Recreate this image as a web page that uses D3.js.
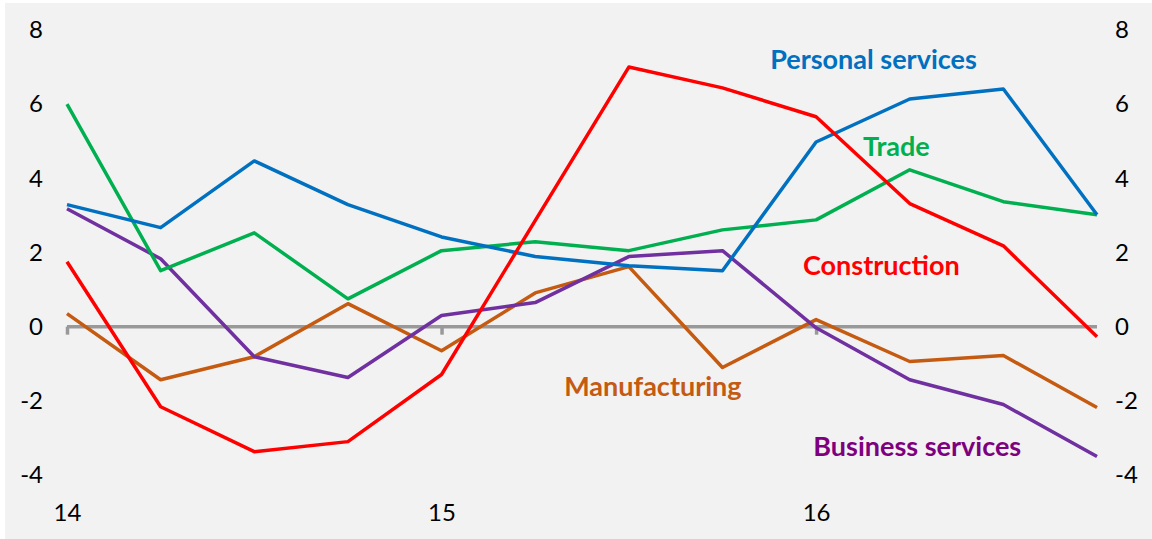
<!DOCTYPE html>
<html>
<head>
<meta charset="utf-8">
<script src="https://cdn.jsdelivr.net/npm/d3@7"></script>
<style>
  html, body { margin: 0; padding: 0; background: #ffffff; }
  svg { display: block; }
</style>
</head>
<body>
<svg id="chart" width="1152" height="539"></svg>
<script>
// ---- data ----
const quarters = ["14Q1","14Q2","14Q3","14Q4","15Q1","15Q2","15Q3","15Q4","16Q1","16Q2","16Q3","16Q4"];
const yearTicks = ["14Q1","15Q1","16Q1"];
const yearLabels = ["14","15","16"];
const yTicks = [-4,-2,0,2,4,6,8];

const personalServices = [3.29, 2.67, 4.47, 3.29, 2.42, 1.89, 1.64, 1.51, 4.98, 6.14, 6.41, 3.02];
const trade            = [6.00, 1.51, 2.53, 0.75, 2.05, 2.29, 2.05, 2.61, 2.88, 4.23, 3.37, 3.02];
const construction     = [1.75, -2.16, -3.37, -3.10, -1.29, 2.86, 7.00, 6.44, 5.66, 3.32, 2.18, -0.27];
const manufacturing    = [0.35, -1.43, -0.81, 0.62, -0.65, 0.91, 1.62, -1.10, 0.19, -0.94, -0.78, -2.18];
const businessServices = [3.18, 1.83, -0.81, -1.37, 0.30, 0.65, 1.89, 2.05, -0.03, -1.43, -2.10, -3.50];

const seriesNames  = ["Manufacturing","Business services","Trade","Personal services","Construction"];
const seriesValues = [manufacturing, businessServices, trade, personalServices, construction];
const lineColors   = ["#C55A11","#7030A0","#00B050","#0070C0","#FF0000"];
const labelColors  = ["#C55A11","#7F007F","#00B050","#0070C0","#FF0000"];
// label anchors (category plus fractional step offset, value at baseline)
const labelAt = [
  {q:"15Q3", dq:-0.69, v:-1.86},  // Manufacturing
  {q:"16Q1", dq:-0.03, v:-3.48},  // Business services
  {q:"16Q1", dq:0.5,   v:4.61},   // Trade
  {q:"15Q4", dq:0.51,  v:6.96},   // Personal services
  {q:"16Q1", dq:-0.14, v:1.40}    // Construction
];

// ---- chart ----
const svg = d3.select("#chart");
const W = 1152, H = 539;

svg.append("text")
  .attr("x", 8).attr("y", -3)
  .attr("font-family", "Lato, 'Open Sans', sans-serif")
  .attr("font-size", 20)
  .attr("fill", "#000")
  .text("(annual rate of change, per cent)");

svg.append("rect")
  .attr("x", 5).attr("y", 3)
  .attr("width", W - 5).attr("height", H - 3)
  .attr("fill", "#F2F2F2");

const x = d3.scalePoint().domain(quarters).range([67, 1097]);
const y = d3.scaleLinear().domain([-4, 8]).range([475, 30]);

const tickFont = "Lato, 'Open Sans', sans-serif";
const fmt = d => String(d);

// left y axis labels
const yAxisL = d3.axisLeft(y).tickValues(yTicks).tickSize(0).tickPadding(0).tickFormat(fmt);
const gL = svg.append("g").attr("transform", "translate(43,0)").call(yAxisL);
gL.select(".domain").remove();
gL.selectAll("text").attr("font-family", tickFont).attr("font-size", 24).attr("fill", "#000");

// right y axis labels
const yAxisR = d3.axisRight(y).tickValues(yTicks).tickSize(0).tickPadding(0).tickFormat(fmt);
const gR = svg.append("g").attr("transform", "translate(1115,0)").call(yAxisR);
gR.select(".domain").remove();
gR.selectAll("text").attr("font-family", tickFont).attr("font-size", 24).attr("fill", "#000");

// zero line with ticks
const xAxis = d3.axisBottom(x).tickValues(yearTicks).tickSize(8).tickFormat("");
const gX = svg.append("g").attr("transform", `translate(0,${y(0)})`).call(xAxis);
gX.select(".domain").attr("d", `M${x(quarters[0])},0H${x(quarters[quarters.length-1])}`)
  .attr("stroke", "#999999").attr("stroke-width", 3.5);
gX.selectAll(".tick line").attr("stroke", "#999999").attr("stroke-width", 3.5);

// year labels
const yearAxis = d3.axisBottom(x).tickValues(yearTicks).tickSize(0).tickPadding(0)
  .tickFormat((d, i) => yearLabels[i]);
const gY = svg.append("g").attr("transform", "translate(0,504)").call(yearAxis);
gY.select(".domain").remove();
gY.selectAll("text").attr("font-family", tickFont).attr("font-size", 24).attr("fill", "#000");

// lines
const line = d3.line().x((d, i) => x(quarters[i])).y(d => y(d));
seriesValues.forEach((vals, k) => {
  svg.append("path")
    .datum(vals)
    .attr("d", line)
    .attr("fill", "none")
    .attr("stroke", lineColors[k])
    .attr("stroke-width", 3.5)
    .attr("stroke-linejoin", "round");
});

// labels
const step = x.step();
seriesNames.forEach((name, k) => {
  const a = labelAt[k];
  svg.append("text")
    .attr("x", x(a.q) + a.dq * step)
    .attr("y", y(a.v))
    .attr("font-family", "Lato, 'Open Sans', sans-serif")
    .attr("font-weight", "bold")
    .attr("font-size", 27)
    .attr("fill", labelColors[k])
    .text(name);
});
</script>
</body>
</html>
